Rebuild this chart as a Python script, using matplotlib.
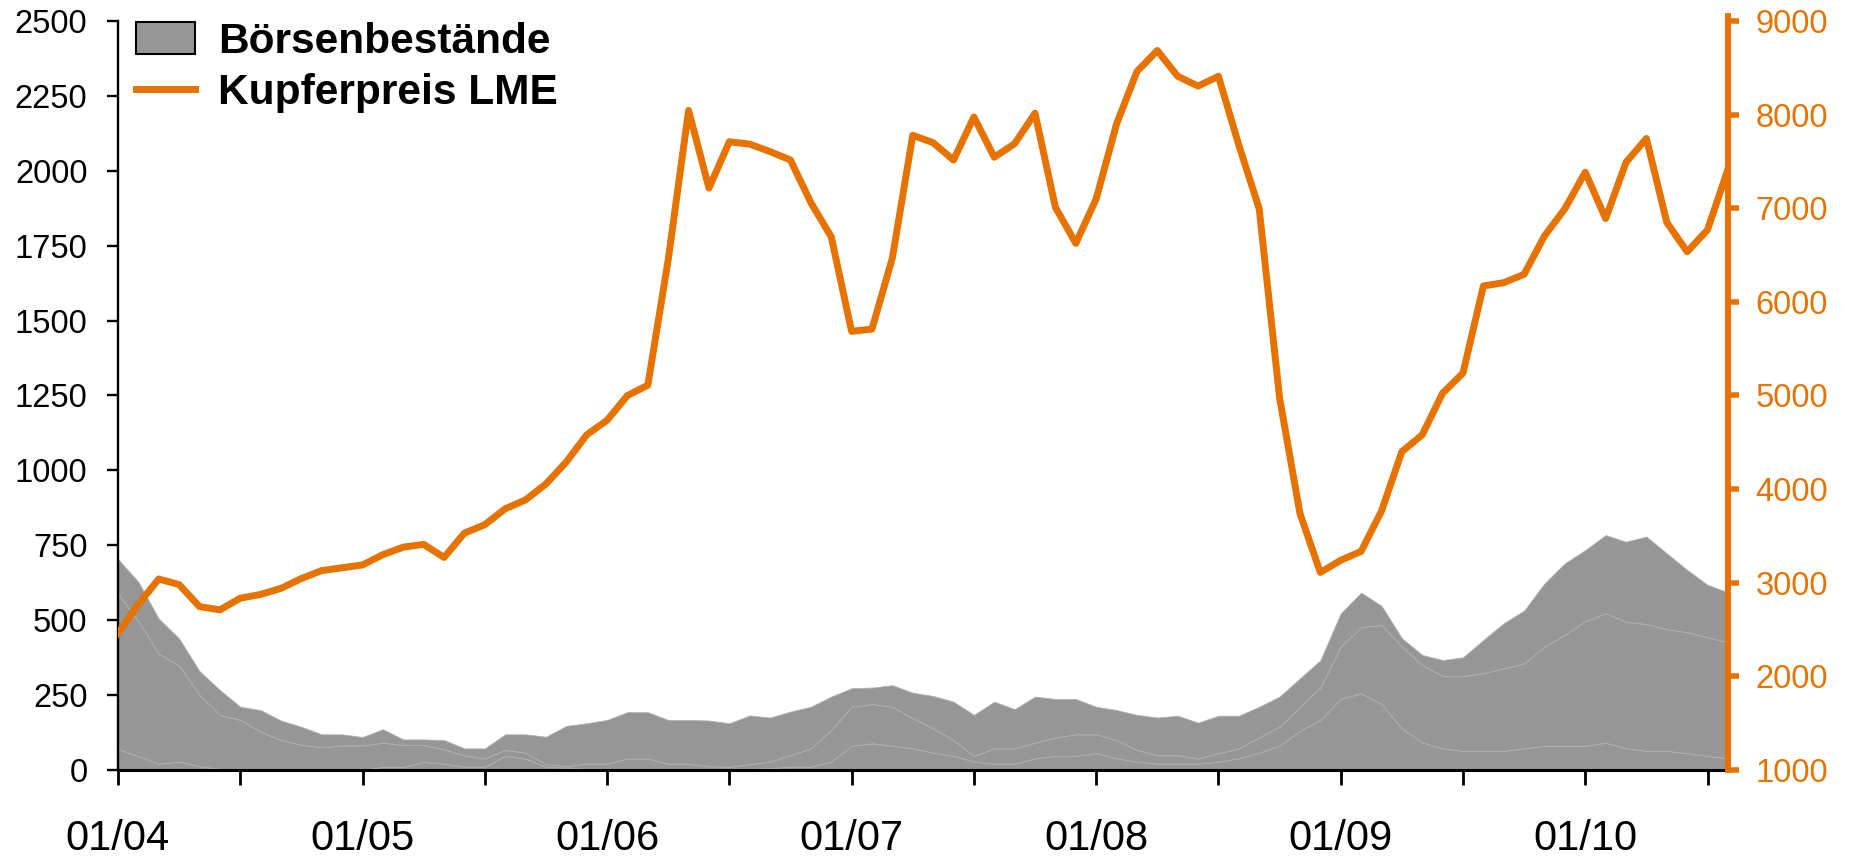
#%%
import numpy as np
import pandas as pd
import matplotlib
matplotlib.use('Agg')
import matplotlib.pyplot as plt
from matplotlib.patches import Patch
from matplotlib.lines import Line2D

plt.rcParams['font.family'] = ['Liberation Sans', 'DejaVu Sans']

#%% Daten (Monatswerte 01/2004 - 08/2010)
months = pd.date_range('2004-01-01', periods=80, freq='MS')

# Kupferpreis LME (rechte Achse)
preis_lme = [2460, 2770, 3040, 2980, 2745, 2710, 2835, 2875, 2940, 3045,
             3130, 3160, 3190, 3300, 3380, 3410, 3270, 3530, 3620, 3790,
             3885, 4055, 4290, 4580, 4735, 5000, 5110, 6450, 8045, 7215,
             7710, 7685, 7605, 7515, 7060, 6695, 5685, 5710, 6470, 7780,
             7700, 7515, 7975, 7545, 7690, 8015, 7010, 6625, 7100, 7900,
             8460, 8685, 8410, 8305, 8410, 7675, 6995, 4975, 3740, 3110,
             3240, 3335, 3765, 4400, 4580, 5025, 5240, 6170, 6205, 6295,
             6705, 6995, 7385, 6890, 7490, 7745, 6850, 6535, 6770, 7415]

# Börsenbestände, kumulierte Schichten (linke Achse)
bestand_unten = [70, 46, 21, 28, 12, 4, 0, 0, 0, 0,
                 0, 0, 2, 10, 10, 27, 21, 11, 11, 47,
                 38, 10, 8, 4, 4, 2, 2, 0, 0, 2,
                 4, 4, 6, 11, 11, 28, 81, 89, 81, 72,
                 58, 47, 28, 21, 21, 39, 47, 47, 56, 39,
                 28, 21, 21, 21, 28, 39, 58, 81, 131, 167,
                 238, 256, 220, 139, 92, 72, 64, 64, 64, 72,
                 81, 81, 81, 91, 72, 64, 64, 56, 47, 39]

bestand_mitte = [590, 497, 388, 349, 251, 184, 167, 128, 100, 84,
                 76, 82, 82, 91, 83, 83, 69, 49, 38, 67,
                 58, 19, 13, 21, 21, 38, 38, 21, 21, 12,
                 11, 19, 28, 50, 72, 134, 211, 220, 211, 173,
                 139, 100, 47, 72, 72, 91, 109, 119, 119, 100,
                 67, 49, 49, 38, 56, 72, 109, 145, 211, 275,
                 412, 477, 484, 412, 350, 314, 314, 323, 339, 356,
                 412, 451, 497, 523, 495, 487, 470, 460, 443, 426]

bestand_gesamt = [704, 628, 505, 439, 330, 267, 211, 200, 165, 144,
                  119, 119, 110, 136, 102, 102, 100, 72, 72, 119,
                  119, 111, 147, 156, 167, 193, 193, 167, 167, 165,
                  156, 182, 175, 195, 211, 245, 273, 275, 283, 258,
                  247, 228, 184, 228, 203, 245, 237, 237, 211, 200,
                  184, 175, 181, 158, 181, 181, 211, 245, 306, 366,
                  523, 592, 548, 440, 384, 367, 376, 434, 490, 532,
                  623, 690, 734, 784, 762, 779, 723, 668, 618, 593]

tick_labels = ['01/04', '01/05', '01/06', '01/07', '01/08', '01/09', '01/10']

orange = '#E67300'
grau = '#969696'

#%% Plot
x = np.arange(len(months))

fig = plt.figure(figsize=(18.52, 8.58), dpi=100)
ax = fig.add_axes([0.0637, 0.1026, 0.8693, 0.8729])

schichten = [np.zeros(len(x)), np.array(bestand_unten), np.array(bestand_mitte), np.array(bestand_gesamt)]
for lo, hi in zip(schichten[:-1], schichten[1:]):
    ax.fill_between(x, lo, hi, facecolor=grau, edgecolor='#b0b0b0', linewidth=0.6)

ax.set_xlim(0, len(x) - 1)
ax.set_ylim(0, 2500)
ax.set_yticks(np.arange(0, 2501, 250))
xt = np.arange(0, len(x), 6)
ax.set_xticks(xt)
ax.set_xticklabels([tick_labels[i // 2] if i % 2 == 0 else '' for i in range(len(xt))])
ax.tick_params(axis='x', direction='out', length=11, width=2, labelsize=30, pad=24)
ax.tick_params(axis='y', direction='out', length=8, width=1.7, labelsize=23.5, pad=14)
ax.spines['top'].set_visible(False)
ax.spines['right'].set_visible(False)
ax.spines['left'].set_linewidth(1.7)
ax.spines['bottom'].set_linewidth(2.2)

ax2 = ax.twinx()
ax2.plot(x, preis_lme, color=orange, linewidth=5, solid_joinstyle='round')
ax2.set_ylim(1000, 9000)
ax2.set_yticks(np.arange(1000, 9001, 1000))
ax2.tick_params(axis='y', direction='out', length=8, width=4, colors=orange, labelsize=23.5, pad=12)
for s in ['top', 'left', 'bottom']:
    ax2.spines[s].set_visible(False)
ax2.spines['right'].set_color(orange)
ax2.spines['right'].set_linewidth(4.3)
ax2.spines['right'].set_bounds(1000, 9050)

handles = [Patch(facecolor=grau, edgecolor='black', linewidth=1.5),
           Line2D([0], [0], color=orange, linewidth=5)]
leg = ax2.legend(handles, ['Börsenbestände', 'Kupferpreis LME'], loc='upper left',
                 bbox_to_anchor=(0.011, 0.999), frameon=False, borderpad=0, borderaxespad=0,
                 prop={'size': 30.5, 'weight': 'bold'}, handlelength=1.4,
                 handleheight=0.75, labelspacing=0.27, handletextpad=0.55)

fig.savefig('out.png', dpi=100)
